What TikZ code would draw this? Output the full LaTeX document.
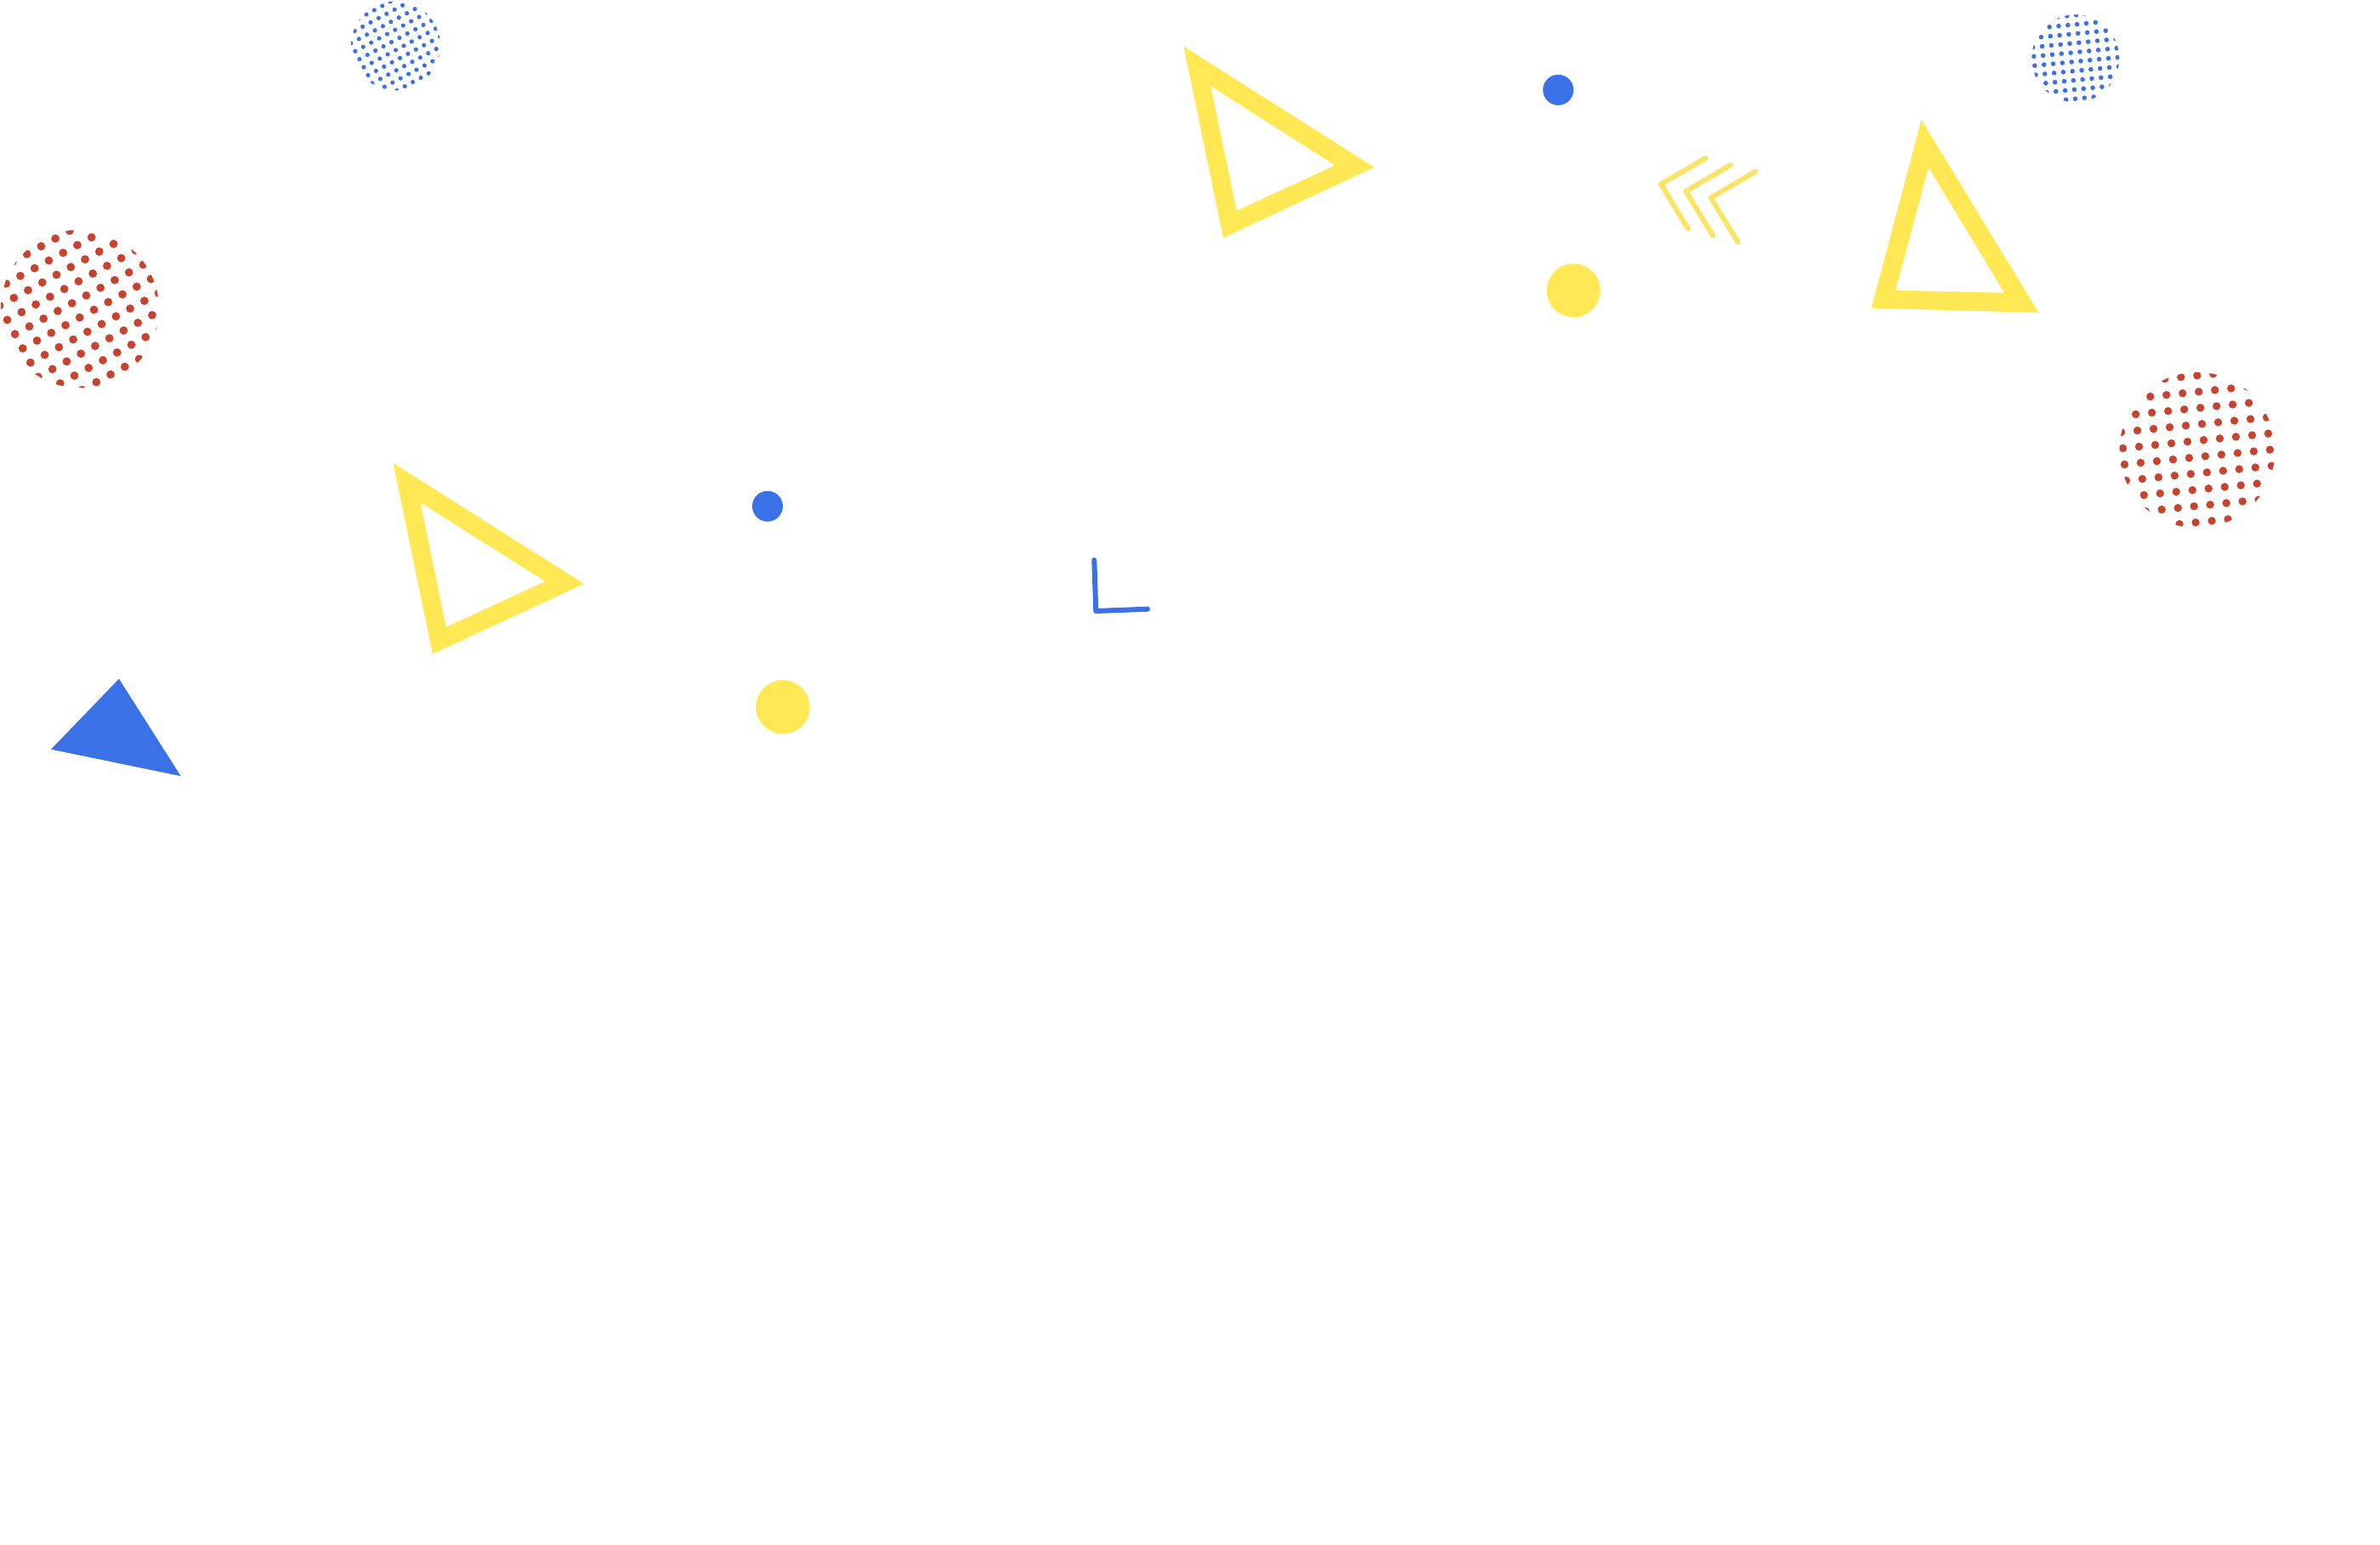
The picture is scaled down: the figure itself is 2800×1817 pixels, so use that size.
\documentclass[tikz,border=0pt]{standalone}
\usetikzlibrary{calc}
\definecolor{ylw}{HTML}{FFE854}
\definecolor{chev}{HTML}{FAE466}
\definecolor{blu}{HTML}{3A71E6}
\definecolor{rd}{HTML}{C6432F}
\tikzset{
  hollowtri/.style={fill=ylw,even odd rule},
  chevron/.style={draw=chev,line width=0.06cm,line cap=round,line join=round},
  lshape/.style={draw=blu,line width=0.06cm,line cap=round,line join=round},
}
% dot grid: clip centre; clip radius; reference dot; row step; column step; dot radius; -; -; colour
\newcommand{\dotgrid}[9]{%
  \begin{scope}
    \clip (#1) circle[radius=#2];
    \foreach \i in {-7,...,7}{%
      \foreach \j in {-7,...,7}{%
        \fill[#9] ($(#3)+\i*(#4)+\j*(#5)$) circle[radius=#6];
      }%
    }%
  \end{scope}%
}
\begin{document}
\begin{tikzpicture}[x=0.01cm,y=-0.01cm]
\useasboundingbox[fill=white] (0,0) rectangle (2800,1817);

% dotted circles
\dotgrid{93.9,363.4}{0.93cm}{84.7,356.8}{16.76,-9.08}{9.08,16.76}{0.049cm}{}{}{rd}
\dotgrid{465.5,53.8}{0.525cm}{460.5,49.5}{9.40,-5.03}{5.03,9.40}{0.026cm}{}{}{blu}
\dotgrid{2441.7,68.75}{0.515cm}{2437.1,72.9}{10.83,-1.08}{1.08,10.83}{0.028cm}{}{}{blu}
\dotgrid{2585,529.6}{0.915cm}{2575.4,538.75}{19.0,-1.92}{1.92,19.0}{0.047cm}{}{}{rd}

% hollow yellow triangles
\fill[hollowtri] (1392.5,54.6) -- (1616.8,196.8) -- (1439.1,279.8) -- cycle
                 (1424.3,101.2) -- (1570.6,194.5) -- (1454.8,248) -- cycle;
\fill[hollowtri] (2260.4,140.8) -- (2398.3,367.9) -- (2201.7,362.5) -- cycle
                 (2268.75,196.7) -- (2357.9,344.6) -- (2230,341.7) -- cycle;
\fill[hollowtri] (462.6,544.8) -- (687,686.9) -- (508.9,769.5) -- cycle
                 (494.6,591.4) -- (641.4,684) -- (524.7,737.9) -- cycle;

% solid blue triangle
\fill[blu] (140,798.8) -- (212.7,913.2) -- (60.1,881.7) -- cycle;

% dots
\fill[blu] (1833.2,105.8) circle[radius=0.18cm];
\fill[ylw] (1851.2,341.7) circle[radius=0.314cm];
\fill[blu] (903,595.7) circle[radius=0.18cm];
\fill[ylw] (921,831.9) circle[radius=0.316cm];

% chevrons
\draw[chevron] (2006.7,186) -- (1954,216.7) -- (1986,269.3);
\draw[chevron] (2036,194) -- (1983.3,225) -- (2015.3,277.3);
\draw[chevron] (2065.3,201.7) -- (2012.7,232.7) -- (2044.7,285);

% blue L
\draw[lshape] (1287.3,659) -- (1289.3,719) -- (1350,716.7);
\end{tikzpicture}
\end{document}
